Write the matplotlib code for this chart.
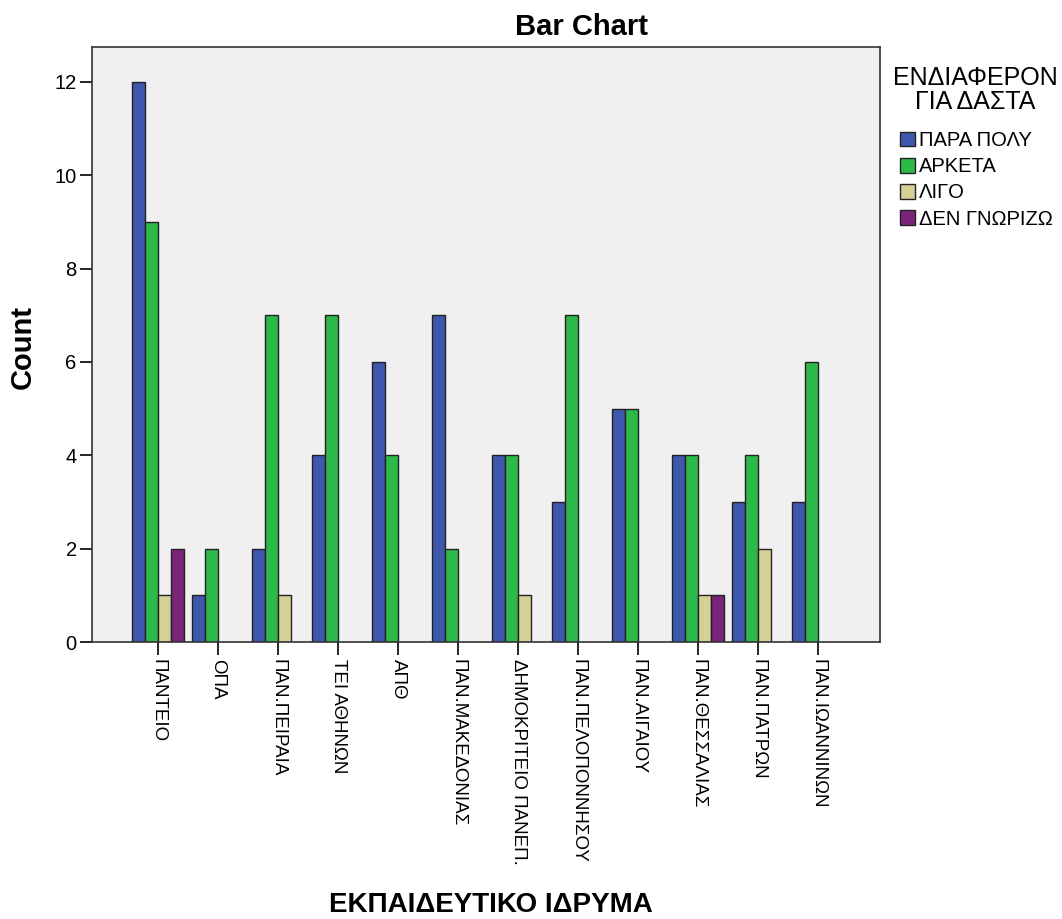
import matplotlib
matplotlib.use("Agg")
import matplotlib.pyplot as plt
import numpy as np
from matplotlib.patches import Patch

plt.rcParams['font.family'] = ['Liberation Sans', 'DejaVu Sans']

categories = ["ΠΑΝΤΕΙΟ", "ΟΠΑ", "ΠΑΝ.ΠΕΙΡΑΙΑ", "ΤΕΙ ΑΘΗΝΩΝ", "ΑΠΘ", "ΠΑΝ.ΜΑΚΕΔΟΝΙΑΣ",
              "ΔΗΜΟΚΡΙΤΕΙΟ ΠΑΝΕΠ.", "ΠΑΝ.ΠΕΛΟΠΟΝΝΗΣΟΥ", "ΠΑΝ.ΑΙΓΑΙΟΥ", "ΠΑΝ.ΘΕΣΣΑΛΙΑΣ",
              "ΠΑΝ.ΠΑΤΡΩΝ", "ΠΑΝ.ΙΩΑΝΝΙΝΩΝ"]
series_names = ["ΠΑΡΑ ΠΟΛΥ", "ΑΡΚΕΤΑ", "ΛΙΓΟ", "ΔΕΝ ΓΝΩΡΙΖΩ"]
para_poly = [12, 1, 2, 4, 6, 7, 4, 3, 5, 4, 3, 3]
arketa = [9, 2, 7, 7, 4, 2, 4, 7, 5, 4, 4, 6]
ligo = [1, 0, 1, 0, 0, 0, 1, 0, 0, 1, 2, 0]
den_gnorizo = [2, 0, 0, 0, 0, 0, 0, 0, 0, 1, 0, 0]
series = [para_poly, arketa, ligo, den_gnorizo]
colors = ["#3D58AC", "#2DB84A", "#D5D196", "#7B2479"]

fig = plt.figure(figsize=(10.62, 9.19), dpi=100)
ax = fig.add_axes([0.0866, 0.3014, 0.742, 0.6475])
ax.set_facecolor("#F0F0F0")

x = np.arange(len(categories))
w = 0.215
for i, (vals, c) in enumerate(zip(series, colors)):
    offs = (i - 1.5) * w
    for xi, v in zip(x, vals):
        if v > 0:
            ax.bar(xi + offs, v, width=w, color=c, edgecolor="#222222", linewidth=1.0)

ax.set_xlim(-1.1, 12.03)
ax.set_ylim(0, 12.75)
ax.set_yticks([0, 2, 4, 6, 8, 10, 12])
ax.set_xticks(x)
ax.set_xticklabels(categories, rotation=-90, fontsize=13.5)
ax.tick_params(axis='y', labelsize=14.5, length=9, width=1.2, direction='out', pad=2)
ax.tick_params(axis='x', length=9, width=1.2, direction='out', pad=3)
for s in ax.spines.values():
    s.set_linewidth(1.2)
    s.set_color("#333333")

fig.text(582 / 1062, 1 - 27 / 919, "Bar Chart", fontsize=21, fontweight='bold',
         ha='center', va='center')
fig.text(23 / 1062, 1 - 347 / 919, "Count", fontsize=21, fontweight='bold',
         ha='center', va='center', rotation=90)
fig.text(491 / 1062, 1 - 905 / 919, "ΕΚΠΑΙΔΕΥΤΙΚΟ ΙΔΡΥΜΑ", fontsize=20, fontweight='bold',
         ha='center', va='center')

fig.text(975 / 1062, 1 - 90 / 919, "ΕΝΔΙΑΦΕΡΟΝ\nΓΙΑ ΔΑΣΤΑ", fontsize=18,
         ha='center', va='center', multialignment='center', linespacing=1.05)

handles = [Patch(facecolor=c, edgecolor="#222222", label=n) for c, n in zip(colors, series_names)]
leg = fig.legend(handles=handles, loc='upper left',
                 bbox_to_anchor=(900 / 1062, 1 - 131 / 919), frameon=False, fontsize=14.5,
                 handlelength=0.75, handleheight=0.75,
                 handletextpad=0.2, labelspacing=0.36, borderaxespad=0, borderpad=0)

fig.savefig("out.png", dpi=100)
